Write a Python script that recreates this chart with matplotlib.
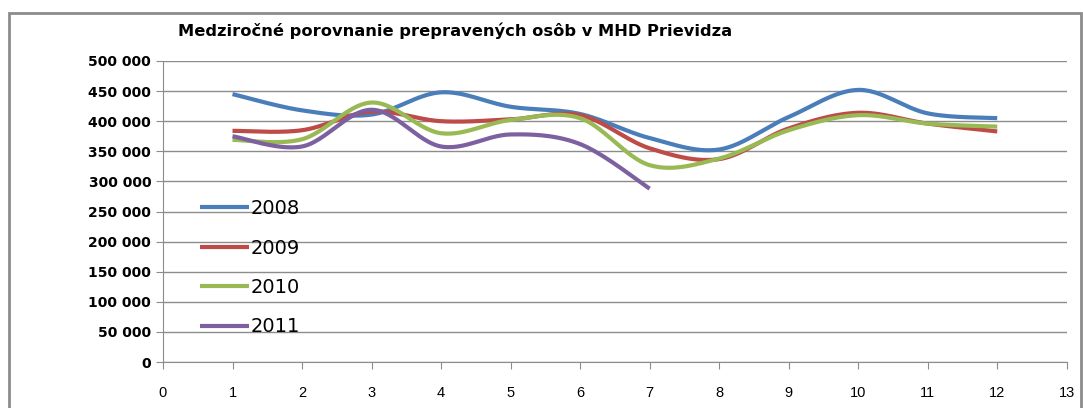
import matplotlib
matplotlib.use("Agg")
import matplotlib.pyplot as plt
import numpy as np
from matplotlib.patches import Rectangle
from matplotlib.ticker import FuncFormatter

months = [1, 2, 3, 4, 5, 6, 7, 8, 9, 10, 11, 12]
y2008 = [445000, 418000, 411000, 448000, 424000, 412000, 372000, 353000, 407000, 452000, 413000, 405000]
y2009 = [384000, 385000, 416000, 400000, 403000, 410000, 355000, 337000, 388000, 414000, 396000, 383000]
y2010 = [369000, 370000, 431000, 380000, 402000, 405000, 327000, 338000, 385000, 410000, 396000, 391000]
y2011 = [375000, 358000, 419000, 358000, 378000, 362000, 288000]

series = [("2008", y2008, "#4A7EBB"), ("2009", y2009, "#BE4B48"),
          ("2010", y2010, "#98B954"), ("2011", y2011, "#7D60A0")]


def smooth(xs, ys, n=30):
    # Excel-style smoothed line (Catmull-Rom bezier)
    xs = np.asarray(xs, float)
    ys = np.asarray(ys, float)
    px = np.concatenate([[xs[0]], xs, [xs[-1]]])
    py = np.concatenate([[ys[0]], ys, [ys[-1]]])
    ox, oy = [], []
    t = np.linspace(0, 1, n)
    for i in range(1, len(px) - 2):
        p0 = np.array([px[i], py[i]])
        p3 = np.array([px[i + 1], py[i + 1]])
        p1 = p0 + (p3 - np.array([px[i - 1], py[i - 1]])) / 6
        p2 = p3 - (np.array([px[i + 2], py[i + 2]]) - p0) / 6
        b = ((1 - t) ** 3)[:, None] * p0 + (3 * (1 - t) ** 2 * t)[:, None] * p1 \
            + (3 * (1 - t) * t ** 2)[:, None] * p2 + (t ** 3)[:, None] * p3
        ox.extend(b[:, 0])
        oy.extend(b[:, 1])
    return ox, oy


plt.rcParams["font.family"] = ["Liberation Sans", "DejaVu Sans"]

fig = plt.figure(figsize=(10.83, 4.08), dpi=100)
ax = fig.add_axes([0.1505, 0.1127, 0.8345, 0.7378])

for name, vals, col in series:
    sx, sy = smooth(months[:len(vals)], vals)
    ax.plot(sx, sy, color=col, lw=3, label=name, solid_capstyle="butt")

ax.set_xlim(0, 13)
ax.set_ylim(0, 500000)
ax.set_xticks(range(0, 14))
ax.set_yticks(range(0, 500001, 50000))
ax.yaxis.set_major_formatter(FuncFormatter(lambda v, p: f"{int(v):,}".replace(",", " ")))
ax.grid(axis="y", color="#8c8c8c", lw=1)
ax.set_axisbelow(True)
for s in ["top", "right"]:
    ax.spines[s].set_visible(False)
ax.spines["left"].set_color("#8c8c8c")
ax.spines["bottom"].set_color("#8c8c8c")
ax.tick_params(axis="both", color="#8c8c8c", length=5, labelsize=10.5)
ax.tick_params(axis="x", pad=12)
for lb in ax.get_yticklabels():
    lb.set_fontweight("bold")
    lb.set_family("DejaVu Sans")
    lb.set_fontsize(10)

ax.legend(loc="lower left", bbox_to_anchor=(0.026, 0.04), frameon=False,
          prop={"family": "DejaVu Sans", "size": 14},
          handlelength=2.5, labelspacing=1.05, handletextpad=0.1, borderaxespad=0.3)

fig.text(0.42, 0.925, "Medziročné porovnanie prepravených osôb v MHD Prievidza",
         ha="center", va="center", fontsize=11.7, fontweight="bold", family="DejaVu Sans")

fig.patches.append(Rectangle((0.008, -0.01), 0.99, 0.978, transform=fig.transFigure,
                             fill=False, edgecolor="#8c8c8c", lw=2))

fig.savefig("out.png", dpi=100)
